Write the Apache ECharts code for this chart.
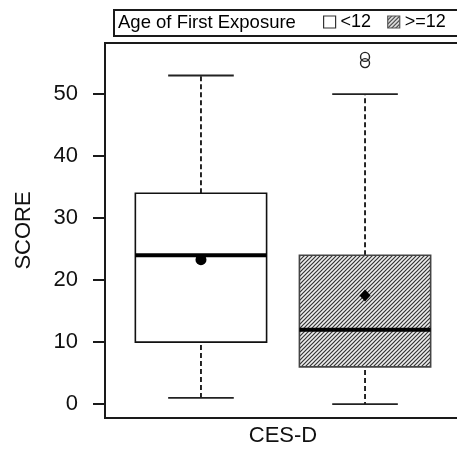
<!DOCTYPE html>
<html>
<head>
<meta charset="utf-8">
<script src="https://cdn.jsdelivr.net/npm/echarts@6/dist/echarts.min.js"></script>
<style>
  html, body { margin: 0; padding: 0; background: #fff; }
  #chart { width: 457px; height: 450px; }
</style>
</head>
<body>
<div id="chart"></div>
<script>
// groups and box statistics
const groups = ['<12', '>=12']
const positions = [1, 2]
const whiskerLow = [1, 0]
const q1 = [10, 6]
const median = [24, 12]
const q3 = [34, 24]
const whiskerHigh = [53, 50]
const means = [23.3, 17.5]
const outliers = [[], [55, 56]]
const yTicks = [0, 10, 20, 30, 40, 50]

const boxHalf = 0.4
const capHalf = 0.2

// hatch pattern ////
function makeHatch() {
  const c = document.createElement('canvas')
  c.width = 4
  c.height = 4
  const ctx = c.getContext('2d')
  ctx.fillStyle = '#eeeeee'
  ctx.fillRect(0, 0, 4, 4)
  ctx.strokeStyle = '#333'
  ctx.lineWidth = 1.2
  ctx.beginPath()
  ctx.moveTo(-1, 5); ctx.lineTo(5, -1)
  ctx.moveTo(-3, 3); ctx.lineTo(3, -3)
  ctx.moveTo(1, 7); ctx.lineTo(7, 1)
  ctx.stroke()
  return c
}
const hatch = { image: makeHatch(), repeat: 'repeat' }
const fills = ['#ffffff', hatch]
const borders = ['#111', '#444']

function renderBox(params, api) {
  const x = api.value(0)
  const lo = api.coord([x, api.value(1)])
  const a = api.coord([x, api.value(2)])
  const m = api.coord([x, api.value(3)])
  const b = api.coord([x, api.value(4)])
  const hi = api.coord([x, api.value(5)])
  const hb = api.size([boxHalf, 0])[0]
  const hc = api.size([capHalf, 0])[0]
  const cx = lo[0]
  const i = params.seriesIndex
  const dash = { stroke: '#111', lineWidth: 1.8, lineDash: [5, 3] }
  const solid = { stroke: '#222', lineWidth: 1.8 }
  return {
    type: 'group',
    children: [
      { type: 'line', shape: { x1: cx, y1: a[1] + 3, x2: cx, y2: lo[1] }, style: dash },
      { type: 'line', shape: { x1: cx, y1: b[1], x2: cx, y2: hi[1] }, style: dash },
      { type: 'line', shape: { x1: cx - hc, y1: lo[1], x2: cx + hc, y2: lo[1] }, style: solid },
      { type: 'line', shape: { x1: cx - hc, y1: hi[1], x2: cx + hc, y2: hi[1] }, style: solid },
      {
        type: 'rect',
        shape: { x: cx - hb, y: b[1], width: hb * 2, height: a[1] - b[1] },
        style: { fill: fills[i], stroke: borders[i], lineWidth: 1.6 }
      },
      { type: 'line', shape: { x1: cx - hb, y1: m[1], x2: cx + hb, y2: m[1] }, style: { stroke: '#000', lineWidth: 4 } }
    ]
  }
}

const chart = echarts.init(document.getElementById('chart'))

const boxSeries = groups.map((g, i) => ({
  name: g,
  type: 'custom',
  renderItem: renderBox,
  data: [[positions[i], whiskerLow[i], q1[i], median[i], q3[i], whiskerHigh[i]]],
  z: 2
}))

const outlierData = []
outliers.forEach((list, i) => list.forEach(v => outlierData.push([positions[i], v])))

const option = {
  animation: false,
  textStyle: { fontFamily: 'Liberation Sans, Arial, sans-serif' },
  grid: {
    left: 105, top: 43, right: -4, bottom: 32,
    show: true, borderColor: '#1a1a1a', borderWidth: 2,
    outerBoundsMode: 'none'
  },
  legend: {
    left: 323, top: 13, padding: 0,
    itemWidth: 12, itemHeight: 12, itemGap: 16,
    textStyle: { fontSize: 18, color: '#000', fontFamily: 'Liberation Sans' },
    data: [
      { name: groups[0], icon: 'rect', itemStyle: { color: '#fff', borderColor: '#333', borderWidth: 1.2 } },
      { name: groups[1], icon: 'rect', itemStyle: { color: hatch, borderColor: '#555', borderWidth: 1.2 } }
    ],
    selectedMode: false
  },
  graphic: [
    {
      type: 'rect', left: 113, top: 9, z: -1,
      shape: { width: 350, height: 26 },
      style: { fill: '#fff', stroke: '#1a1a1a', lineWidth: 2 }
    },
    {
      type: 'text', left: 118, top: 13,
      style: { text: 'Age of First Exposure', fontSize: 18.5, fill: '#000', fontFamily: 'Liberation Sans' }
    }
  ],
  xAxis: {
    type: 'value', min: 0.415, max: 2.585,
    name: 'CES-D', nameLocation: 'middle', nameGap: 7,
    nameTextStyle: { fontSize: 22, color: '#111' },
    axisLine: { show: true, onZero: false, lineStyle: { color: '#1a1a1a', width: 2 } },
    axisTick: { show: false }, axisLabel: { show: false }, splitLine: { show: false }
  },
  yAxis: {
    type: 'value', min: -2.24, max: 58.24,
    name: 'SCORE', nameLocation: 'middle', nameGap: 70, nameRotate: 90,
    nameTextStyle: { fontSize: 22, color: '#111' },
    axisLine: { show: true, onZero: false, lineStyle: { color: '#1a1a1a', width: 2 } },
    axisTick: { show: true, length: 12, customValues: yTicks, lineStyle: { color: '#1a1a1a', width: 2 } },
    axisLabel: { fontSize: 22, color: '#111', margin: 27, customValues: yTicks },
    splitLine: { show: false }
  },
  series: [
    ...boxSeries,
    {
      name: 'mean <12', type: 'scatter', symbol: 'circle', symbolSize: 11,
      itemStyle: { color: '#000', opacity: 1 }, z: 5,
      data: [[positions[0], means[0]]]
    },
    {
      name: 'mean >=12', type: 'scatter', symbol: 'diamond', symbolSize: [11, 12],
      itemStyle: { color: '#000', opacity: 1 }, z: 5,
      data: [[positions[1], means[1]]]
    },
    {
      name: 'outliers', type: 'scatter', symbol: 'circle', symbolSize: 9,
      itemStyle: { color: 'rgba(0,0,0,0)', borderColor: '#222', borderWidth: 1.4, opacity: 1 }, z: 5,
      data: outlierData
    }
  ]
}

chart.setOption(option)
</script>
</body>
</html>
